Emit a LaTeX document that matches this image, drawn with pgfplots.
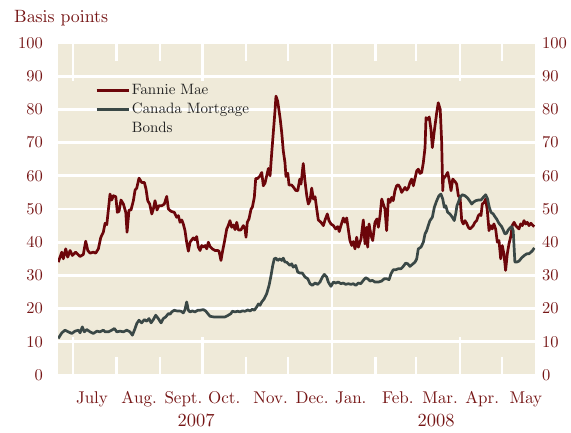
\documentclass[border=0pt]{standalone}
\usepackage{pgfplots}
\pgfplotsset{compat=1.18}
\font\tickfont=cmr10 at 16.5pt
\font\monthfont=cmr10 at 17pt
\font\yearfont=cmr10 at 18.5pt
\font\legfont=cmr10 at 15pt
\font\titlefont=cmr10 at 17.8pt
\definecolor{bgc}{RGB}{239,234,217}
\definecolor{fmred}{RGB}{108,6,10}
\definecolor{cmbgreen}{RGB}{58,72,70}
\definecolor{labred}{RGB}{118,22,22}
\definecolor{legtxt}{RGB}{34,34,34}
\pgfplotstableread{
d v
-10.5 34
-8.0 37
-6.9 35
-5.2 38
-3.8 35.5
-2.1 37.5
-0.5 36
1.9 37
5.0 35.7
7.3 36.3
9.0 40.3
10.5 37.5
12.1 36.7
14.4 37
16.1 36.7
18.0 38
19.7 41.4
21.5 43
22.8 45.7
24.0 45.3
25.1 49.7
26.3 54.5
27.5 52.7
28.7 54
30.4 53.7
31.5 49
32.7 49.3
34.1 52.7
35.8 51.5
37.5 49
38.4 43
39.8 49.7
41.2 49.7
42.9 52.5
44.1 55.7
45.3 56.3
46.9 59.3
48.8 58
50.7 58
51.9 56
53.1 52.5
54.5 51.5
56.0 48.5
57.1 50
58.3 52.5
59.7 49.7
61.1 51
63.1 51
64.9 51.5
66.6 53.8
67.8 50
69.7 49.3
72.0 49
73.7 47.5
74.9 48
76.1 46
77.3 46.7
78.4 45.5
79.6 43.5
80.8 40
82.0 37.3
83.2 40
84.4 40.7
85.5 41.3
86.7 40.7
87.9 41.7
89.1 38.5
90.3 37.5
91.5 39
92.6 38.5
93.9 39
95.1 38
96.2 40
97.4 38.7
99.0 38
101.0 37.5
102.9 37.5
103.8 37.3
105.2 34.5
106.2 37
107.6 40
109.3 44
110.4 45
111.6 46.5
112.8 44.5
114.0 45.2
115.2 43.8
116.4 46
117.5 43.7
119.4 43.7
121.1 45
122.3 44
123.0 41.5
123.9 46
125.1 47
126.6 50
127.5 50.5
128.9 53.5
129.9 59.2
131.3 59.2
133.0 60
134.2 61
135.3 57
136.5 57.8
137.7 60
138.9 62.2
140.1 60
141.3 67
142.4 73
143.6 79.5
144.3 84
145.5 82.5
147.2 77.5
148.4 73
149.5 67.5
150.7 64
151.4 59.8
152.7 60.8
153.6 57.2
155.5 57.2
156.9 56.5
158.3 55.6
159.8 55.5
161.2 59
162.1 57.5
163.7 63.7
164.9 58.5
166.2 54
167.3 51.5
168.5 52.5
169.7 56.3
170.9 53
172.1 53.7
173.3 50
174.4 46.7
176.3 46
178.0 45
179.2 46.7
180.8 48.5
182.0 46.5
183.4 45.5
185.1 45
186.8 44
188.2 44.7
189.3 43.2
190.5 45
192.2 47.3
193.4 46
194.6 47.3
195.7 44
196.9 40.5
198.2 39
199.3 40.2
200.5 38
201.7 41.5
202.9 38.5
204.8 41
206.4 46.7
207.6 39.5
208.8 44.5
209.5 38.5
210.5 45.5
211.9 42
213.1 40.5
214.7 46
216.1 47
217.1 44.5
218.3 48
219.5 53
220.6 51.5
221.8 50
223.0 43.5
224.2 53
225.4 52
226.6 53.5
227.7 52.5
228.9 55.5
230.1 57
231.3 57.3
232.5 56.5
233.7 55
234.8 55.7
236.1 56.5
237.3 55.7
238.4 56.3
239.6 58
240.8 59
242.0 57
243.2 59.3
244.4 61.5
245.5 62
246.7 60.7
247.9 61
249.1 64
250.3 68.5
251.0 77.5
252.2 77
253.3 77.7
254.5 74
255.5 68.5
256.9 73.5
258.6 79
259.7 82
261.1 80
262.1 70.5
262.9 55.5
263.3 59
265.0 60
266.4 61
267.6 58.5
268.8 55.5
270.0 59
271.6 58.3
272.8 57.5
274.0 54
275.2 53.5
276.4 46.5
277.5 45.5
278.7 46.5
279.9 45.7
281.1 44.5
282.3 44
283.5 44.5
284.6 45
285.8 46
287.0 46.5
288.2 48
289.4 48.5
290.1 48
291.0 51.5
292.4 52
293.4 53
294.6 49.5
295.8 43.5
297.0 45
298.1 44
299.3 45.5
300.5 44
301.7 40
302.9 40.5
304.1 35
305.2 39
306.4 36.5
307.6 31.5
308.8 36.5
310.0 39.5
311.4 42
312.3 45
313.6 46
314.8 45
315.9 44.5
317.1 44
318.3 45.5
319.5 45
320.7 46.5
321.9 45.5
323.0 46
324.2 45
325.6 45.7
327.1 45
328.0 44.7
}\fanniemae
\pgfplotstableread{
d v
-10.5 11
-8.0 12.7
-5.7 13.5
-3.3 13
-0.9 12.5
1.4 13.2
3.8 13.5
5.0 12.7
6.6 14.5
8.0 13
9.7 13.7
12.1 13
14.4 12.5
16.9 13.2
19.2 13
21.5 13.5
22.8 13
25.1 13
27.5 13.5
29.4 14
31.1 13
33.4 13.2
35.8 13
38.2 13.5
40.5 13
42.2 12
44.1 14
45.3 15.5
46.9 16.5
48.8 15.7
50.7 16.7
52.4 16.2
54.0 17
55.5 15.7
57.1 16.7
58.8 18
60.6 17
62.6 15.7
64.2 17
65.9 17.5
67.8 18.5
69.0 18.3
70.2 19
72.0 19.5
73.7 19.3
75.4 19.3
76.8 19.2
78.4 18.7
79.6 19.7
80.8 22
82.0 19.5
83.2 19
84.8 19.3
86.7 19
88.7 19.5
90.3 19.5
92.6 19.7
94.3 19.3
95.8 18.5
97.4 17.7
99.8 17.5
102.2 17.5
105.7 17.5
108.1 17.5
110.4 18
112.3 18.5
113.3 19.2
115.2 19
117.1 19.2
118.7 19
120.4 19.3
122.3 19.2
124.2 19.6
125.9 19.3
127.5 19.8
128.9 19.5
130.6 20.5
131.8 21.4
133.0 21
134.2 22
136.0 23
137.7 24.5
139.4 27
140.8 30
142.0 33
143.1 35
144.3 35.2
145.5 34.5
147.2 35
148.4 34.5
149.5 35.2
150.7 34
151.9 34
153.1 33.5
154.3 33
155.5 33.5
156.6 32.5
158.3 33
159.8 31
161.4 30.7
163.0 30.7
165.0 29.5
166.9 29
168.5 27.5
170.1 27
172.1 27.7
174.0 27.3
175.6 28
177.3 29.5
178.7 30.3
180.4 29.5
181.5 28
183.4 26.7
185.1 28
186.8 27.7
188.6 28
190.5 27.5
192.2 27.7
193.9 27.3
195.7 27.5
197.7 27.3
199.3 27.5
201.0 27
202.9 27.7
204.6 27.5
206.4 28.5
208.1 29.3
209.5 29
211.2 28.3
212.8 28.5
214.7 28
217.1 28
219.5 28.3
221.3 29
223.0 29
224.7 28.7
226.1 30.5
227.7 31.7
229.4 31.7
231.3 32
233.2 32
234.8 32.7
236.5 33.7
238.0 33.5
239.6 32.7
241.2 33.3
243.2 34
244.4 35
245.5 38
247.4 38.5
249.1 40
250.3 42.5
251.5 43.5
252.6 45
253.8 46.5
255.5 47.5
256.9 50.5
258.6 52.5
260.2 54
261.6 54.5
262.9 53
264.0 50.5
265.0 51
266.4 49
268.0 48.5
269.7 47.5
271.1 46.5
272.3 49
273.0 51
274.0 52
275.2 53.5
276.8 54.3
278.7 54
280.6 53.3
282.3 52.3
283.5 51.5
284.6 52
286.3 52.5
288.2 52.7
290.1 52.7
291.7 53.5
293.4 54.3
294.8 53
296.0 50.5
297.2 49
298.8 48.5
300.0 47.7
301.2 47
302.4 46
303.6 45.3
304.8 44.7
305.9 43.7
307.1 42.5
308.3 42.7
309.5 43.7
310.7 44.3
311.9 44.7
313.0 43.5
314.2 34
315.4 34
317.1 34.3
319.0 35.3
320.9 36
322.6 36.5
324.2 36.5
325.6 37
326.8 37.5
328.0 38.3
}\canadamb
\begin{document}
\begin{tikzpicture}
\useasboundingbox (0pt,0pt) rectangle (571pt,432pt);
\begin{axis}[at={(58pt,57pt)}, anchor=south west,
  width=477pt, height=332pt, scale only axis,
  xmin=-10.7, xmax=328.5, ymin=0, ymax=100,
  axis background/.style={fill=bgc},
  axis line style={draw=none},
  ytick={0,10,...,100},
  /pgf/number format/assume math mode=true,
  ymajorgrids, major grid style={white, line width=2.7pt},
  xtick={13.5,47,78.5,107.5,140.5,170,197.5,231,261,291,322},
  xticklabels={July,Aug.,Sept.,Oct.,Nov.,Dec.,Jan.,Feb.,Mar.,Apr.,May},
  minor xtick={0,31,62,92,123,153,184,215,244,275,305},
  major tick length=0pt, minor tick length=18pt, tick align=inside,
  minor tick style={white, line width=2.5pt},
  extra x ticks={0,92,275}, extra x tick labels={},
  extra x tick style={major tick length=38pt, tick style={white, line width=2.5pt}},
  xticklabel style={text=labred, font=\monthfont, anchor=base, inner sep=0pt, yshift=-28pt},
  yticklabel style={text=labred, font=\tickfont, anchor=east, inner sep=0pt, xshift=-15pt},
  legend cell align=left,
  legend style={draw=none, fill=none, at={(0.0776,0.8834)}, anchor=north west,
    font=\legfont, text=legtxt, row sep=1.5pt, inner sep=0pt,
    nodes={inner sep=2pt, text height=10.5pt, text depth=3pt}},
  legend image code/.code={\draw[#1] (0pt,0pt) -- (32pt,0pt);},
]
\addplot[white, line width=2.5pt, forget plot] coordinates {(184,0) (184,100)};
\addplot[fmred, line width=2.7pt, line join=round] table[x=d, y=v] {\fanniemae};
\addlegendentry{Fannie Mae}
\addplot[cmbgreen, line width=2.7pt, line join=round] table[x=d, y=v] {\canadamb};
\addlegendentry{Canada Mortgage}
\addlegendimage{empty legend}
\addlegendentry{Bonds}
\end{axis}
\begin{axis}[at={(58pt,57pt)}, anchor=south west,
  width=477pt, height=332pt, scale only axis,
  xmin=-10.7, xmax=328.5, ymin=0, ymax=100,
  hide x axis, axis y line*=right, y axis line style={draw=none},
  ytick={0,10,...,100}, major tick length=0pt,
  /pgf/number format/assume math mode=true,
  yticklabel style={text=labred, font=\tickfont, anchor=west, inner sep=0pt, xshift=7pt},
]
\end{axis}
\node[anchor=base west, text=labred, font=\titlefont, inner sep=0pt] at (14pt,409pt) {Basis points};
\node[anchor=base, text=labred, font=\yearfont, inner sep=0pt] at (196pt,5.6pt) {2007};
\node[anchor=base, text=labred, font=\yearfont, inner sep=0pt] at (436pt,5.6pt) {2008};
\end{tikzpicture}
\end{document}
